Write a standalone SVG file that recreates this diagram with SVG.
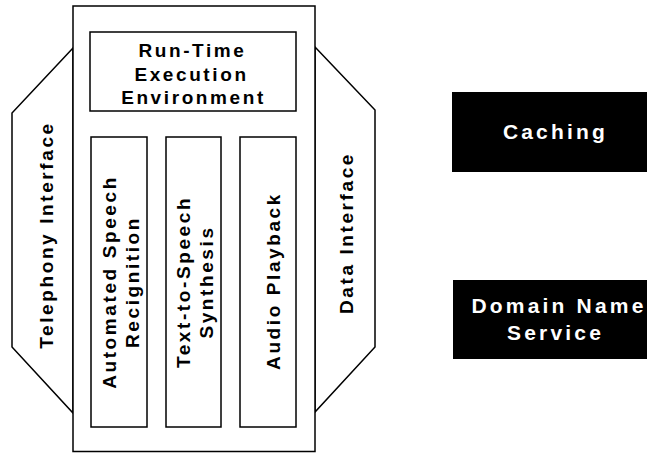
<svg xmlns="http://www.w3.org/2000/svg" width="647" height="454" viewBox="0 0 647 454">
<style>
.ln{fill:#fff;stroke:#000;stroke-width:1.5}
.blk{fill:#000;stroke:none}
.t{font-family:"Liberation Sans",Arial,sans-serif;font-weight:bold;font-size:19px;letter-spacing:2.6px;fill:#000;text-anchor:middle}
.w{font-family:"Liberation Sans",Arial,sans-serif;font-weight:bold;font-size:21px;letter-spacing:3.2px;fill:#fff;text-anchor:middle}
</style>
<rect width="647" height="454" fill="#fff"/>
<g id="telephony-interface">
<polygon class="ln" points="73,48 12,113 12,347 73,413"/>
<text class="t" transform="translate(52.5,235) rotate(-90)">Telephony Interface</text>
</g>
<g id="data-interface">
<polygon class="ln" points="315,47 375,110 375,347 315,412"/>
<text class="t" transform="translate(353,233) rotate(-90)">Data Interface</text>
</g>
<g id="platform">
<rect class="ln" x="73" y="6" width="242" height="445.5"/>
</g>
<g id="runtime">
<rect class="ln" x="90" y="32" width="206" height="79"/>
<text class="t" x="192.5" y="57">Run-Time</text>
<text class="t" x="191.5" y="80.5">Execution</text>
<text class="t" x="193.5" y="104">Environment</text>
</g>
<g id="asr">
<rect class="ln" x="91" y="137" width="56" height="290"/>
<text class="t" transform="translate(115.5,282) rotate(-90)">Automated Speech</text>
<text class="t" transform="translate(138.5,282) rotate(-90)">Recignition</text>
</g>
<g id="tts">
<rect class="ln" x="166" y="137" width="55" height="290"/>
<text class="t" transform="translate(189.5,282) rotate(-90)">Text-to-Speech</text>
<text class="t" transform="translate(212.5,282) rotate(-90)">Synthesis</text>
</g>
<g id="audio">
<rect class="ln" x="240" y="137" width="56" height="290"/>
<text class="t" transform="translate(280,281) rotate(-90)">Audio Playback</text>
</g>
<g id="caching">
<rect class="blk" x="452" y="92" width="195" height="80"/>
<text class="w" x="555.5" y="139">Caching</text>
</g>
<g id="dns">
<rect class="blk" x="453" y="280" width="194" height="79"/>
<text class="w" x="559" y="312.5">Domain Name</text>
<text class="w" x="555.5" y="339.5">Service</text>
</g>
<g id="connectors"></g>
</svg>
